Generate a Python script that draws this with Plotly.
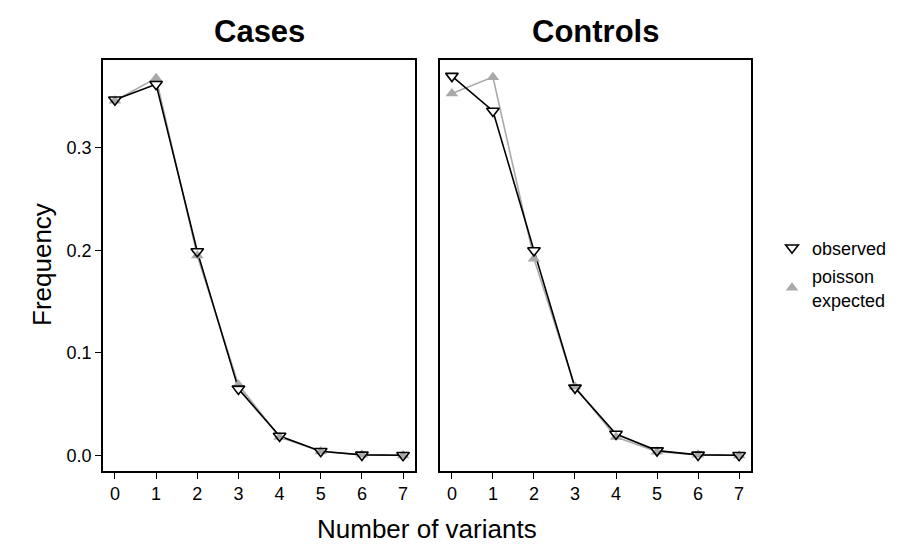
import plotly.graph_objects as go

variants = [0, 1, 2, 3, 4, 5, 6, 7]
cases_observed = [0.347, 0.362, 0.199, 0.065, 0.019, 0.0042, 0.0006, 0.0003]
cases_expected = [0.346, 0.368, 0.195, 0.069, 0.018, 0.0039, 0.0007, 0.0001]
controls_observed = [0.370, 0.336, 0.200, 0.066, 0.021, 0.0048, 0.0006, 0.0003]
controls_expected = [0.353, 0.369, 0.192, 0.067, 0.018, 0.0038, 0.0007, 0.0001]
panel_titles = ["Cases", "Controls"]
y_ticks = [0.0, 0.1, 0.2, 0.3]
y_ticktext = ["0.0", "0.1", "0.2", "0.3"]

W, H = 901, 547
FONT = "Liberation Sans, Arial, Helvetica, sans-serif"
GRAY = "#A9A9A9"

fig = go.Figure()

panels = [
    ("x", "y", cases_observed, cases_expected, True),
    ("x2", "y2", controls_observed, controls_expected, False),
]
for xa, ya, obs, exp, show in panels:
    fig.add_trace(go.Scatter(x=variants, y=exp, xaxis=xa, yaxis=ya, mode="lines",
                             line=dict(color=GRAY, width=1.6), showlegend=False, hoverinfo="skip"))
    fig.add_trace(go.Scatter(x=variants, y=obs, xaxis=xa, yaxis=ya, mode="lines",
                             line=dict(color="black", width=1.6), showlegend=False, hoverinfo="skip"))
    fig.add_trace(go.Scatter(x=variants, y=obs, xaxis=xa, yaxis=ya, mode="markers",
                             marker=dict(symbol="triangle-down", size=11, color="white",
                                         line=dict(width=0)),
                             showlegend=False, hoverinfo="skip"))
    fig.add_trace(go.Scatter(x=variants, y=exp, xaxis=xa, yaxis=ya, mode="markers",
                             name="poisson<br>expected", legendgroup="exp", legendrank=2,
                             marker=dict(symbol="triangle-up", size=11, color=GRAY,
                                         line=dict(width=0)),
                             showlegend=show))
    fig.add_trace(go.Scatter(x=variants, y=obs, xaxis=xa, yaxis=ya, mode="markers",
                             name="observed", legendgroup="obs", legendrank=1,
                             marker=dict(symbol="triangle-down-open", size=11, color="black",
                                         line=dict(width=1.6, color="black")),
                             showlegend=show))

ydom = [1 - 462.7 / H, 1 - 51.7 / H]
xrng = [-0.29, 7.29]
yrng = [-0.0148, 0.386]

axis_common = dict(showgrid=False, zeroline=False, showline=True, linecolor="black",
                   linewidth=1.7, mirror=True, ticks="outside", ticklen=6, tickwidth=1.4,
                   tickcolor="black", tickfont=dict(family=FONT, size=18, color="black"))

fig.update_layout(
    width=W, height=H,
    margin=dict(l=0, r=0, t=0, b=0),
    paper_bgcolor="white", plot_bgcolor="white",
    font=dict(family=FONT, color="black"),
    xaxis=dict(domain=[95 / W, 407 / W], range=xrng, tickvals=variants, anchor="y", **axis_common),
    xaxis2=dict(domain=[432 / W, 743 / W], range=xrng, tickvals=variants, anchor="y2", **axis_common),
    yaxis=dict(domain=ydom, range=yrng, tickvals=y_ticks, ticktext=y_ticktext, anchor="x",
               **axis_common),
    yaxis2=dict(domain=ydom, range=yrng, tickvals=y_ticks, anchor="x2", showticklabels=False,
                **{k: v for k, v in axis_common.items() if k not in ("ticks",)}, ticks=""),
    legend=dict(x=764 / W, y=1 - 266 / H, xanchor="left", yanchor="middle",
                font=dict(family=FONT, size=18, color="black"), bgcolor="rgba(0,0,0,0)",
                tracegroupgap=2, itemwidth=30),
    showlegend=True,
)

annotations = [
    dict(text="<b>%s</b>" % panel_titles[0], x=251 / W, y=1 - 23.5 / H, xref="paper", yref="paper",
         showarrow=False, font=dict(family=FONT, size=31, color="black"), xanchor="center", yanchor="middle"),
    dict(text="<b>%s</b>" % panel_titles[1], x=587 / W, y=1 - 23.5 / H, xref="paper", yref="paper",
         showarrow=False, font=dict(family=FONT, size=31, color="black"), xanchor="center", yanchor="middle"),
    dict(text="Number of variants", x=419 / W, y=1 - 521 / H, xref="paper", yref="paper",
         showarrow=False, font=dict(family=FONT, size=26, color="black"), xanchor="center", yanchor="middle"),
    dict(text="Frequency", x=34 / W, y=1 - 257 / H, xref="paper", yref="paper", textangle=-90,
         showarrow=False, font=dict(family=FONT, size=26, color="black"), xanchor="center", yanchor="middle"),
]
fig.update_layout(annotations=annotations)

fig.write_html("out.html")
